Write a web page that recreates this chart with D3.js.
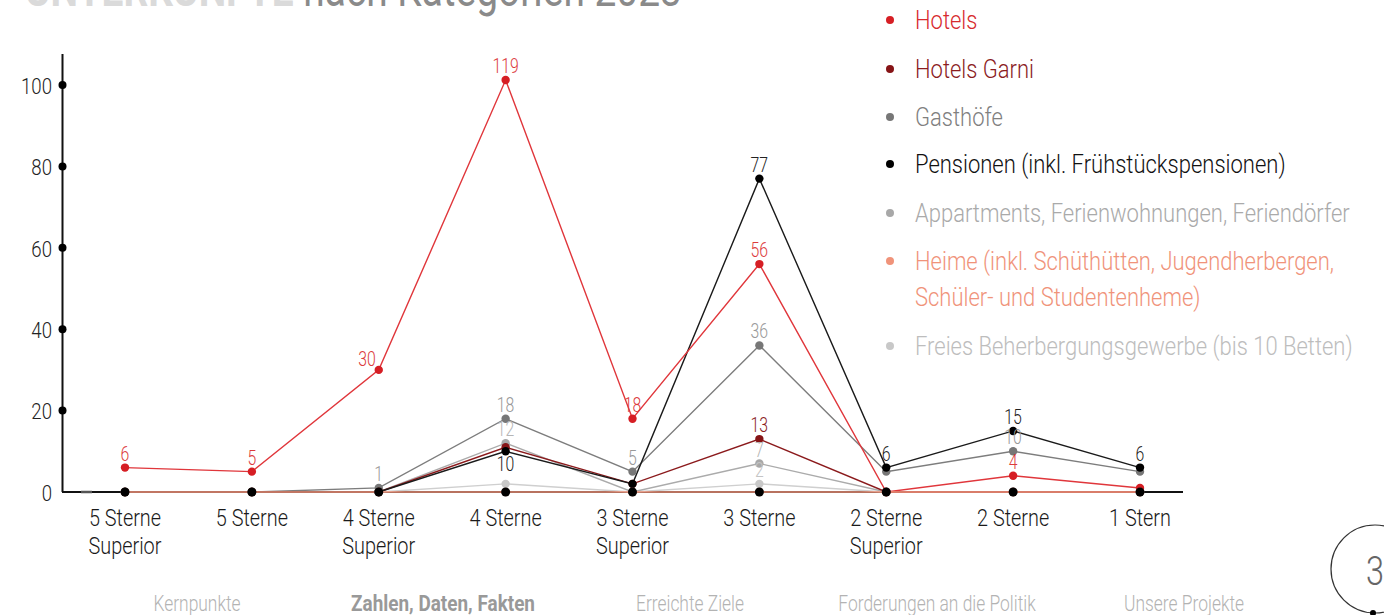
<!DOCTYPE html>
<html><head><meta charset="utf-8">
<script src="https://cdn.jsdelivr.net/npm/d3@7/dist/d3.min.js"></script>
<style>
html,body{margin:0;padding:0;background:#fff;}
svg{display:block;font-family:Roboto,"Noto Sans",sans-serif;}
</style></head>
<body><svg id="c" width="1384" height="615"></svg>
<script>
// ---- data ----
const categories = [["5 Sterne","Superior"],["5 Sterne"],["4 Sterne","Superior"],["4 Sterne"],["3 Sterne","Superior"],["3 Sterne"],["2 Sterne","Superior"],["2 Sterne"],["1 Stern"]];
const seriesNames = ["Hotels","Hotels Garni","Gasthöfe","Pensionen (inkl. Frühstückspensionen)","Appartments, Ferienwohnungen, Feriendörfer","Heime (inkl. Schüthütten, Jugendherbergen,|Schüler- und Studentenheme)","Freies Beherbergungsgewerbe (bis 10 Betten)"];
const hotels     = [6, 5, 30, 119, 18, 56, 0, 4, 1];
const hotelsGarni= [0, 0, 0, 11, 2, 13, 0, 0, 0];
const gasthoefe  = [0, 0, 1, 18, 5, 36, 5, 10, 5];
const pensionen  = [0, 0, 0, 10, 2, 77, 6, 15, 6];
const appartments= [0, 0, 0, 12, 0, 7, 0, 0, 0];
const heime      = [0, 0, 0, 0, 0, 0, 0, 0, 0];
const freies     = [0, 0, 0, 2, 0, 2, 0, 0, 0];
// which values carry a visible label (1 = shown)
const hotelsLabels     = [1,1,1,1,1,1,0,1,0];
const hotelsGarniLabels= [0,0,0,0,0,1,0,0,0];
const gasthoefeLabels  = [0,0,1,1,1,1,0,1,0];
const pensionenLabels  = [0,0,0,1,0,1,1,1,1];
const appartmentsLabels= [0,0,0,1,0,1,0,0,0];
const heimeLabels      = [0,0,0,0,0,0,0,0,0];
const freiesLabels     = [0,0,0,0,0,1,0,0,0];
const yTicks = [0, 20, 40, 60, 80, 100];
const navItems = ["Kernpunkte","Zahlen, Daten, Fakten","Erreichte Ziele","Forderungen an die Politik","Unsere Projekte"];

// ---- styles ----
const lineColors  = ["#e0363b","#8b1a1c","#7d7d7d","#1a1a1a","#ababab","#f0937a","#cfcfcf"];
const dotColors   = ["#d61e24","#861416","#777777","#000000","#a8a8a8","#f0937a","#c8c8c8"];
const textColors  = ["#d72a2e","#8b1c1e","#808080","#111111","#aaaaaa","#f0937a","#bdbdbd"];
const labelColors = ["#dc3a3c","#8b1c1e","#999999","#222222","#b5b5b5","#f0937a","#c4c4c4"];
const COND = 0.81;

const series = [
  {v: hotels, l: hotelsLabels},
  {v: hotelsGarni, l: hotelsGarniLabels},
  {v: gasthoefe, l: gasthoefeLabels},
  {v: pensionen, l: pensionenLabels},
  {v: appartments, l: appartmentsLabels},
  {v: heime, l: heimeLabels},
  {v: freies, l: freiesLabels}
];
const drawOrder = [6,4,2,1,3,0,5];

const svg = d3.select("#c");
const catKeys = categories.map(c => c.join(" "));
const x = d3.scalePoint().domain(catKeys).range([125, 1140]);
// axis is compressed above 100 as in the original picture
const y = d3.scaleLinear().domain([0, 100, 119]).range([492, 85, 80]);

function cText(g, tx, ty, str, opts) {
  const t = g.append("text")
    .attr("transform", `translate(${tx},${ty}) scale(${opts.sx || COND},1)`)
    .attr("text-anchor", opts.anchor || "start")
    .attr("font-size", opts.size)
    .attr("font-weight", opts.weight || 300)
    .attr("fill", opts.fill)
    .text(str);
  return t;
}

// title (cut off at top, as in the original)
const title = svg.append("text")
  .attr("transform", `translate(25,6) scale(${COND},1)`)
  .attr("font-size", 48);
title.append("tspan").attr("font-weight", 700).attr("fill", "#dadada").text("UNTERKÜNFTE ");
title.append("tspan").attr("font-weight", 400).attr("fill", "#8a8a8a").text("nach Kategorien 2023");

// axes
const axisG = svg.append("g");
axisG.append("line").attr("x1", 62.5).attr("x2", 62.5).attr("y1", 54).attr("y2", y(0))
  .attr("stroke", "#111").attr("stroke-width", 2);
axisG.append("line").attr("x1", 62).attr("x2", 1183).attr("y1", y(0)).attr("y2", y(0))
  .attr("stroke", "#111").attr("stroke-width", 2);
axisG.append("line").attr("x1", 81).attr("x2", 92).attr("y1", y(0)).attr("y2", y(0))
  .attr("stroke", "#555").attr("stroke-width", 2.5);

const yAxis = d3.axisLeft(y).tickValues(yTicks).tickSize(0).tickPadding(10).tickFormat(d3.format("d"));
const yg = svg.append("g").attr("transform", "translate(62,0)").call(yAxis);
yg.select(".domain").remove();
yg.selectAll("text").each(function(d) {
  const t = d3.select(this);
  t.attr("font-size", 23).attr("font-weight", 300).attr("fill", "#222")
   .attr("font-family", "Roboto").attr("dy", "0.36em")
   .attr("x", null)
   .attr("transform", `translate(-10,${0}) scale(${COND},1)`);
});

// x axis labels
const xg = svg.append("g");
categories.forEach((c, i) => {
  c.forEach((line, j) => {
    cText(xg, x(catKeys[i]), 526 + j * 28, line, {size: 24.5, anchor: "middle", fill: "#1a1a1a"});
  });
});

// series lines
const lineGen = d3.line().x((d, i) => x(catKeys[i])).y(d => y(d));
const lg = svg.append("g");
drawOrder.forEach(si => {
  lg.append("path").datum(series[si].v)
    .attr("d", lineGen).attr("fill", "none")
    .attr("stroke", lineColors[si]).attr("stroke-width", 1.4);
});
drawOrder.forEach(si => {
  lg.selectAll(null).data(series[si].v).enter().append("circle")
    .attr("cx", (d, i) => x(catKeys[i])).attr("cy", d => y(d)).attr("r", 4.2)
    .attr("fill", dotColors[si]);
});

// tick dots
svg.append("g").selectAll("circle").data(yTicks.filter(d => d > 0)).enter().append("circle")
  .attr("cx", 62.5).attr("cy", d => y(d)).attr("r", 4).attr("fill", "#000");
svg.append("g").selectAll("circle").data(catKeys).enter().append("circle")
  .attr("cx", d => x(d)).attr("cy", y(0)).attr("r", 4.5).attr("fill", "#000");

// value labels
const vg = svg.append("g");
series.forEach((s, si) => {
  s.v.forEach((v, i) => {
    if (!s.l[i]) return;
    let tx = x(catKeys[i]), ty = y(v) - 7, anchor = "middle";
    if (si === 0 && i === 2) { tx -= 3; anchor = "end"; ty = y(v) - 4; }
    if (si === 3 && i === 3) { ty = y(v) + 20; }
    cText(vg, tx, ty, String(v), {size: 19.5, anchor: anchor, fill: labelColors[si]});
  });
});

// legend
const legG = svg.append("g");
const legendY = [20, 69, 117, 164, 213, 261, 346];
seriesNames.forEach((name, i) => {
  legG.append("circle").attr("cx", 890).attr("cy", legendY[i]).attr("r", 4).attr("fill", dotColors[i]);
  name.split("|").forEach((ln, j) => {
    cText(legG, 915, legendY[i] + 9 + j * 36, ln, {size: 26.5, sx: 0.83, fill: textColors[i]});
  });
});

// footer nav
const navX = [197, 443, 690, 937, 1184];
navItems.forEach((n, i) => {
  cText(svg, navX[i], 611, n, {size: i === 1 ? 21.5 : 21.5, sx: i === 1 ? 0.88 : 0.81, anchor: "middle", fill: i === 1 ? "#999" : "#b3b3b3", weight: i === 1 ? 700 : 300});
});

// page number
svg.append("circle").attr("cx", 1375).attr("cy", 569).attr("r", 44).attr("fill", "none").attr("stroke", "#333").attr("stroke-width", 1.2);
cText(svg, 1366, 585, "3", {size: 40, fill: "#666"});
svg.append("circle").attr("cx", 1373).attr("cy", 613).attr("r", 3).attr("fill", "#000");
</script></body></html>
